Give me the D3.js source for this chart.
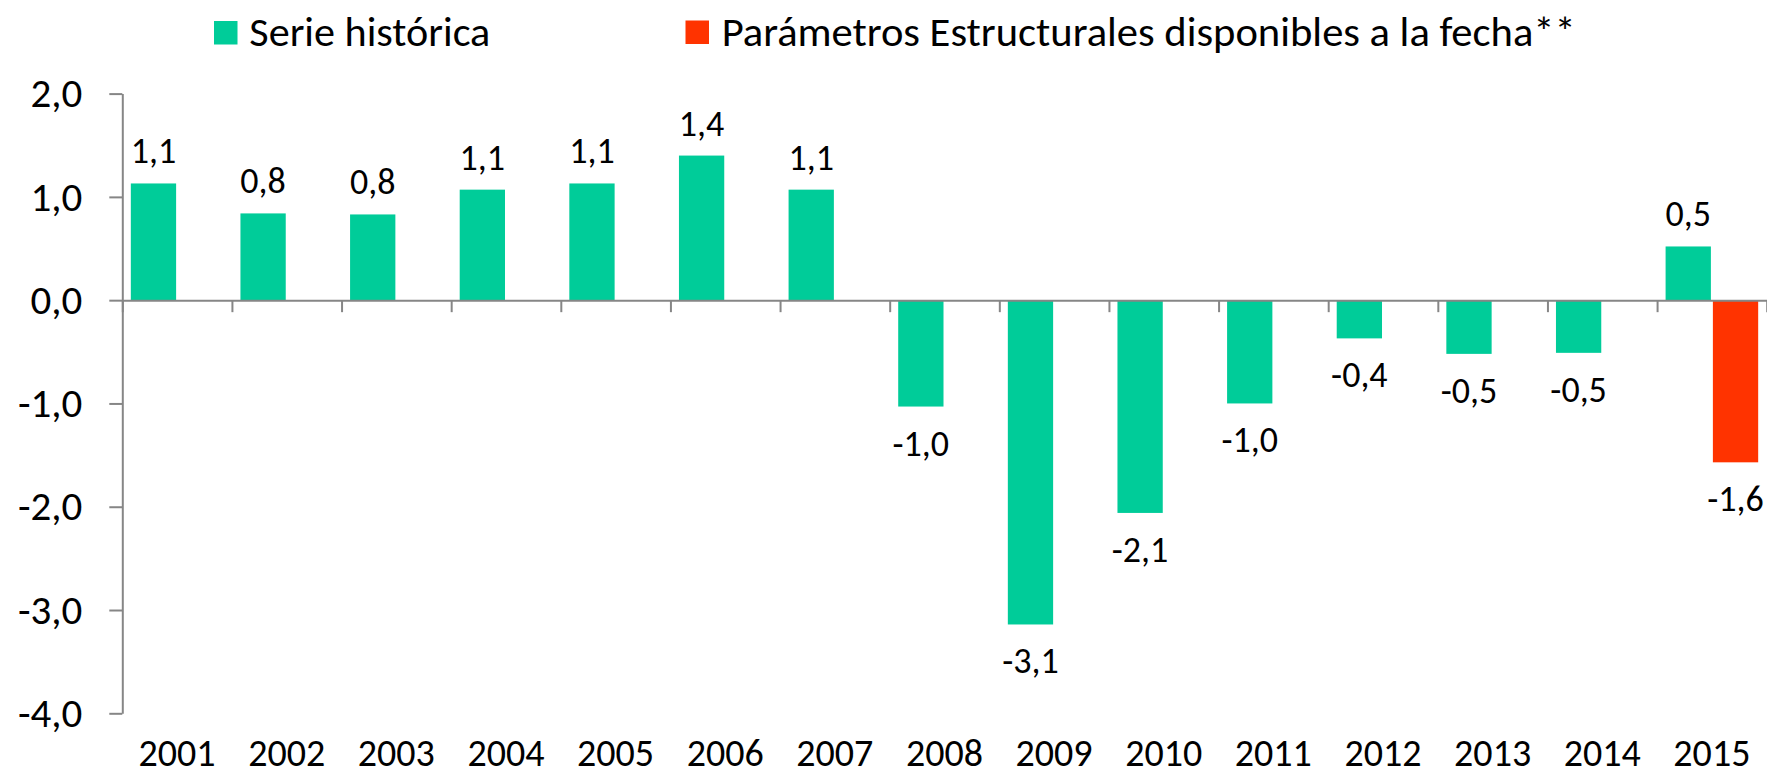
<!DOCTYPE html>
<html lang="es">
<head>
<meta charset="utf-8">
<title>Serie histórica y parámetros estructurales</title>
<script src="https://cdn.jsdelivr.net/npm/d3@7/dist/d3.min.js"></script>
<style>
  html, body { margin: 0; padding: 0; background: #ffffff; }
  svg { display: block; font-family: Carlito, Lato, "Noto Sans", sans-serif; }
</style>
</head>
<body>
<svg id="chart" width="1767" height="775"></svg>
<script>
// Años del eje horizontal
const categories = ["2001", "2002", "2003", "2004", "2005", "2006", "2007", "2008",
                    "2009", "2010", "2011", "2012", "2013", "2014", "2015"];
// Serie histórica
const historico = [1.13, 0.84, 0.83, 1.07, 1.13, 1.40, 1.07, -1.03,
                   -3.14, -2.06, -1.00, -0.37, -0.52, -0.51, 0.52];
// Parámetros estructurales disponibles a la fecha (solo 2015)
const estructural = [null, null, null, null, null, null, null, null,
                     null, null, null, null, null, null, -1.57];
// Marcas del eje vertical
const yTicks = [2, 1, 0, -1, -2, -3, -4];
// Nombres de las series
const seriesNames = ["Serie histórica", "Parámetros Estructurales disponibles a la fecha**"];

const colors = ["#00cc99", "#ff3300"];
const axisColor = "#868686";

const locale = d3.formatLocale({ decimal: ",", thousands: ".", grouping: [3], currency: ["", ""], minus: "-" });
const fmt = locale.format(".1f");

const svg = d3.select("#chart");

const plot = { left: 122.3, right: 1766.7, top: 93.6, bottom: 713.3 };

const y = d3.scaleLinear().domain([-4, 2]).range([plot.bottom, plot.top]);
const x0 = d3.scaleBand().domain(categories).range([plot.left, plot.right]).paddingInner(0).paddingOuter(0);
const x1 = d3.scaleBand().domain([0, 1]).range([0, x0.bandwidth()]).paddingInner(0).paddingOuter(0.159);

const series = [historico, estructural];

// Barras
const bars = svg.append("g").attr("class", "bars");
series.forEach((vals, s) => {
  const rows = categories.map((c, i) => ({ c, v: vals[i] })).filter(d => d.v !== null);
  bars.selectAll(null)
    .data(rows)
    .join("rect")
    .attr("x", d => x0(d.c) + x1(s) + 1)
    .attr("width", x1.bandwidth() - 2)
    .attr("y", d => y(Math.max(0, d.v)))
    .attr("height", d => Math.abs(y(d.v) - y(0)))
    .attr("fill", colors[s]);
});

// Eje vertical
const yAxis = svg.append("g")
  .attr("transform", `translate(${plot.left},0)`)
  .call(d3.axisLeft(y).tickValues(yTicks).tickSize(13).tickSizeOuter(0).tickPadding(27).tickFormat(fmt));
yAxis.select(".domain").attr("stroke", axisColor).attr("stroke-width", 2);
yAxis.selectAll(".tick line").attr("stroke", axisColor).attr("stroke-width", 2);
yAxis.selectAll(".tick text")
  .attr("fill", "#000")
  .attr("font-size", 41)
  .attr("font-family", "Carlito, Lato, sans-serif");

// Línea de cero con separadores de categoría
const edge = d3.scaleLinear().domain([0, categories.length]).range([plot.left, plot.right]);
const xAxis = svg.append("g")
  .attr("transform", `translate(0,${y(0)})`)
  .call(d3.axisBottom(edge).tickValues(d3.range(categories.length + 1)).tickSize(12).tickSizeOuter(0).tickFormat(""));
xAxis.select(".domain").attr("stroke", axisColor).attr("stroke-width", 2);
xAxis.selectAll(".tick line").attr("stroke", axisColor).attr("stroke-width", 2);

// Etiquetas de años
svg.append("g")
  .selectAll("text")
  .data(categories)
  .join("text")
  .attr("x", d => x0(d) + x0.bandwidth() / 2)
  .attr("y", 766)
  .attr("text-anchor", "middle")
  .attr("font-size", 38)
  .attr("fill", "#000")
  .text(d => d);

// Etiquetas de valores
const labels = svg.append("g").attr("class", "labels");
series.forEach((vals, s) => {
  const rows = categories.map((c, i) => ({ c, v: vals[i] })).filter(d => d.v !== null);
  labels.selectAll(null)
    .data(rows)
    .join("text")
    .attr("x", d => x0(d.c) + x1(s) + x1.bandwidth() / 2)
    .attr("y", d => d.v >= 0 ? y(d.v) - 20 : y(d.v) + 49)
    .attr("text-anchor", "middle")
    .attr("font-size", 36)
    .attr("fill", "#000")
    .text(d => fmt(d.v));
});

// Leyenda
const legendItems = [
  { name: seriesNames[0], color: colors[0], sx: 214, sy: 21, tx: 249.3, len: 241 },
  { name: seriesNames[1], color: colors[1], sx: 685.5, sy: 20.5, tx: 721.7, len: 854 }
];
const legend = svg.append("g").attr("class", "legend");
legendItems.forEach(it => {
  legend.append("rect")
    .attr("x", it.sx).attr("y", it.sy)
    .attr("width", 23.5).attr("height", 23.5)
    .attr("fill", it.color);
  legend.append("text")
    .attr("x", it.tx).attr("y", 45.7)
    .attr("font-size", 40)
    .attr("fill", "#000")
    .attr("textLength", it.len)
    .attr("lengthAdjust", "spacingAndGlyphs")
    .text(it.name);
});
</script>
</body>
</html>
